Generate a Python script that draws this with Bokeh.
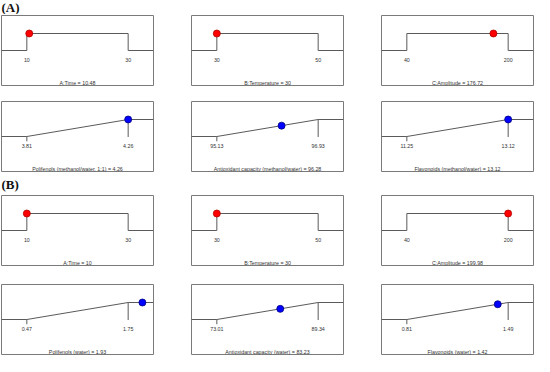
from bokeh.plotting import figure
from bokeh.layouts import column, row, Spacer
from bokeh.models import Range1d
from bokeh.core.properties import value
from bokeh.embed import file_html
from bokeh.resources import INLINE

# ---------------- data ----------------
factor_names = ["A:Time", "B:Temperature", "C:Amplitude"]
factor_lo = [10, 30, 40]
factor_hi = [30, 50, 200]
factor_val_A = [10.48, 30, 176.72]
factor_val_B = [10, 30, 199.98]

resp_names_A = ["Polifenols (methanol/water, 1:1)", "Antioxidant capacity (methanol/water)",
                "Flavonoids (methanol/water)"]
resp_lo_A = [3.81, 95.13, 11.25]
resp_hi_A = [4.26, 96.93, 13.12]
resp_val_A = [4.26, 96.28, 13.12]

resp_names_B = ["Polifenols (water)", "Antioxidant capacity (water)", "Flavonoids (water)"]
resp_lo_B = [0.47, 73.01, 0.81]
resp_hi_B = [1.75, 89.34, 1.49]
resp_val_B = [1.93, 83.23, 1.42]

section_labels = ["(A)", "(B)"]

# ---------------- style ----------------
FW, FH = 154, 72
LINE = "#5a5a5a"
BOX = "#7a7a7a"
TXT = "#333333"
FONT = value("Liberation Sans")
FS = "5.3px"
PXU = 17.0  # pixels per desirability unit


def fmt(v):
    return f"{v:g}"


def base_fig(lo, hi):
    span = hi - lo
    p = figure(width=FW, height=FH, output_backend="svg", toolbar_location=None,
               x_axis_type=None, y_axis_type=None,
               x_range=Range1d(lo - 0.25 * span, hi + 0.25 * span),
               y_range=Range1d(-35 / PXU, 35 / PXU),
               min_border_left=1, min_border_right=1, min_border_top=1, min_border_bottom=1)
    p.outline_line_color = BOX
    p.outline_line_width = 1
    p.background_fill_color = "white"
    p.border_fill_color = "white"
    return p


def factor_panel(name, lo, hi, v):
    p = base_fig(lo, hi)
    x0, x1 = p.x_range.start, p.x_range.end
    p.line([x0, lo, lo, hi, hi, x1], [0, 0, 1, 1, 0, 0], line_color=LINE, line_width=1)
    p.scatter([v], [1], size=7, fill_color="#ff0000", line_color="#b00000", line_width=0.8)
    p.text([lo, hi], [-0.53, -0.53], text=[fmt(lo), fmt(hi)], text_font=FONT,
           text_font_size=FS, text_color=TXT, text_align="center", text_baseline="middle")
    p.text([(lo + hi) / 2], [-1.92], text=[f"{name} = {fmt(v)}"], text_font=FONT,
           text_font_size=FS, text_color=TXT, text_align="center", text_baseline="middle")
    return p


def resp_panel(name, lo, hi, v):
    p = base_fig(lo, hi)
    x0, x1 = p.x_range.start, p.x_range.end
    p.line([x0, lo, hi, x1], [0, 0, 1, 1], line_color=LINE, line_width=1)
    p.segment([lo, hi], [0, 1], [lo, hi], [-0.28, -0.03], line_color=LINE, line_width=1)
    d = min(max((v - lo) / (hi - lo), 0), 1)
    p.scatter([v], [d], size=7, fill_color="#0000ff", line_color="#000080", line_width=0.8)
    p.text([lo, hi], [-0.53, -0.53], text=[fmt(lo), fmt(hi)], text_font=FONT,
           text_font_size=FS, text_color=TXT, text_align="center", text_baseline="middle")
    p.text([(lo + hi) / 2], [-1.92], text=[f"{name} = {fmt(v)}"], text_font=FONT,
           text_font_size=FS, text_color=TXT, text_align="center", text_baseline="middle")
    return p


def label_fig(txt, h, center_from_top):
    p = figure(width=534, height=h, output_backend="svg", toolbar_location=None,
               x_axis_type=None, y_axis_type=None,
               x_range=Range1d(0, 534), y_range=Range1d(0, h),
               min_border_left=0, min_border_right=0, min_border_top=0, min_border_bottom=0)
    p.outline_line_color = None
    p.text([1], [h - center_from_top], text=[txt], text_font=value("Liberation Serif"),
           text_font_size="13px", text_font_style="bold", text_color="#111111",
           text_align="left", text_baseline="middle")
    return p


SP = 36
rowA1 = row([factor_panel(n, l, h, v) for n, l, h, v in
             zip(factor_names, factor_lo, factor_hi, factor_val_A)], spacing=SP)
rowA2 = row([resp_panel(n, l, h, v) for n, l, h, v in
             zip(resp_names_A, resp_lo_A, resp_hi_A, resp_val_A)], spacing=SP)
rowB1 = row([factor_panel(n, l, h, v) for n, l, h, v in
             zip(factor_names, factor_lo, factor_hi, factor_val_B)], spacing=SP)
rowB2 = row([resp_panel(n, l, h, v) for n, l, h, v in
             zip(resp_names_B, resp_lo_B, resp_hi_B, resp_val_B)], spacing=SP)

layout = column(
    label_fig(section_labels[0], 14, 7),
    rowA1,
    Spacer(height=14),
    rowA2,
    label_fig(section_labels[1], 22, 12),
    rowB1,
    Spacer(height=17),
    rowB2,
    spacing=0,
)

open("out.html", "w").write(file_html(layout, INLINE))
